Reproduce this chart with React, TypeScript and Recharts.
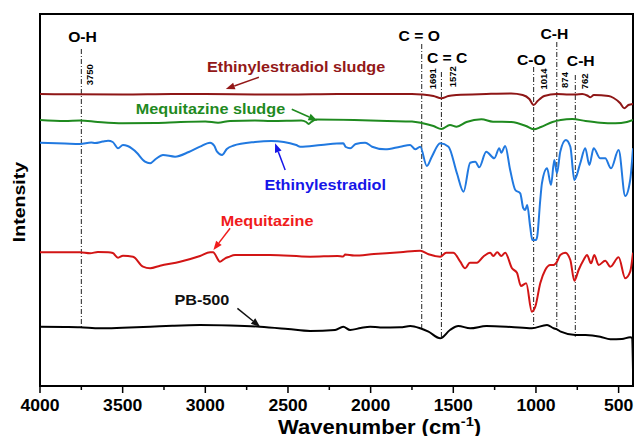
import React from 'react';
import { LineChart, Line, XAxis, YAxis, ReferenceLine, ReferenceDot, ReferenceArea } from 'recharts';

// wavenumber (cm-1) and intensity (a.u.) pairs
const pb500: [number, number][] = [
  [4000, 59.3], [3850, 59], [3758, 58.7], [3637, 57.7], [3500, 58.3], [3334, 59.3], [3200, 60.3], [3032, 61], [2850, 60.5], [2669, 59.3],
  [2500, 57], [2366, 55], [2215, 56], [2166, 59.3], [2124, 56], [2060, 58], [2003, 59.3], [1942, 58.5], [1821, 58.7],
  [1760, 60], [1700, 57.7], [1650, 54.3], [1579, 47.7], [1520, 56], [1470, 60], [1398, 57.7], [1300, 60], [1150, 59],
  [1025, 57.7], [933, 61], [893, 57.7], [873, 56.7], [850, 54.3], [762, 51], [700, 51], [611, 49.3], [550, 46.7],
  [480, 47], [430, 48.7], [418, 48], [413, 16],
];
const mequitazine: [number, number][] = [
  [4000, 133.7], [3758, 133.7], [3697, 132.7], [3650, 134], [3588, 133.7], [3560, 133], [3528, 128.3], [3498, 130.3],
  [3437, 129.3], [3377, 119.3], [3334, 117.7], [3274, 120.3], [3153, 124.3], [3032, 130], [2971, 133.7], [2953, 133.7],
  [2911, 124.3], [2880, 127.7], [2860, 129], [2820, 131], [2608, 131], [2366, 129.3], [2200, 130], [2166, 129.5],
  [2154, 131.5], [2100, 130.5], [1980, 132], [1821, 133.7], [1700, 135.3], [1650, 131.7], [1579, 129.3], [1543, 133.3],
  [1500, 133.3], [1458, 124.3], [1428, 117.7], [1400, 123.3], [1357, 123.3], [1319, 129.3], [1277, 133.3], [1258, 130],
  [1234, 133.7], [1210, 130], [1186, 133.3], [1145, 117.7], [1115, 113.3], [1091, 100], [1059, 102.7], [1025, 74.3],
  [1004, 79.3], [974, 102.7], [944, 116], [913, 121], [893, 121], [873, 124.3], [853, 131], [823, 133.3], [792, 126],
  [768, 105.3], [742, 116], [712, 126], [691, 131], [667, 122.7], [647, 131], [621, 121], [581, 125.3], [550, 119.3],
  [500, 128.7], [460, 107.7], [430, 114.3], [413, 133.3],
];
const ethinylestradiol: [number, number][] = [
  [4000, 243.3], [3850, 242.5], [3758, 242], [3690, 243.5], [3667, 243], [3620, 244.5], [3588, 245.3], [3560, 244],
  [3528, 237.7], [3498, 241], [3470, 240], [3413, 233], [3377, 226], [3365, 224.3], [3334, 222.7], [3300, 227],
  [3256, 231], [3183, 229.3], [3100, 234], [3032, 239.3], [2971, 243.3], [2945, 240], [2929, 234.3], [2899, 231],
  [2870, 237], [2832, 240.3], [2700, 244], [2600, 245], [2450, 241], [2426, 239.3], [2300, 241], [2166, 242.7],
  [2150, 239], [2124, 237.7], [2090, 242], [2033, 243.3], [1991, 239.3], [1912, 236.7], [1821, 239.3], [1761, 241],
  [1730, 236.7], [1700, 239.3], [1660, 220], [1630, 229.3], [1579, 242.7], [1529, 239.3], [1478, 212.7], [1438, 194.3],
  [1398, 223.3], [1367, 224.3], [1343, 218.7], [1301, 234.3], [1252, 227.7], [1222, 237.7], [1210, 233.3], [1186, 240],
  [1156, 216], [1125, 196], [1095, 192.7], [1077, 178], [1065, 176], [1053, 181], [1035, 159.3], [1022, 146],
  [1000, 146], [992, 150], [974, 186], [964, 202.7], [933, 217.7], [909, 201], [889, 226], [873, 212.7], [853, 234.3],
  [819, 246], [792, 239.3], [768, 206], [732, 222.7], [702, 237.7], [677, 221], [651, 237.7], [611, 227.7], [581, 227.7],
  [546, 217.7], [500, 236], [460, 190], [430, 206], [413, 237.7],
];
const mequitazineSludge: [number, number][] = [
  [4000, 266], [3850, 265], [3758, 265.5], [3650, 264], [3500, 262.7], [3300, 263], [3150, 264], [3000, 264.5],
  [2923, 263.3], [2850, 265], [2700, 265.5], [2600, 265], [2420, 265.5], [2390, 264], [2375, 262], [2360, 264],
  [2330, 266.5], [2100, 266], [1900, 265], [1750, 264.5], [1691, 263], [1620, 260], [1572, 257], [1520, 261],
  [1480, 259.3], [1420, 264], [1330, 266.7], [1260, 264.3], [1150, 264], [1060, 260], [1014, 256.7], [970, 259],
  [900, 264], [850, 266], [780, 267], [700, 265], [611, 263.3], [520, 262.7], [450, 264], [413, 266],
];
const ethinylestradiolSludge: [number, number][] = [
  [4000, 292], [3800, 291.7], [3500, 291.5], [3200, 292], [3000, 292], [2700, 291.6], [2500, 291.5], [2200, 292],
  [2000, 292], [1750, 292], [1691, 291.5], [1620, 290], [1572, 287.7], [1530, 290], [1480, 291], [1300, 292],
  [1150, 292.5], [1080, 291], [1040, 287], [1014, 281], [990, 285], [950, 290], [874, 292], [800, 291.5], [762, 291.5],
  [720, 292], [690, 290.5], [671, 288.7], [650, 291], [560, 290], [530, 288], [490, 282.7], [466, 277.7], [441, 281],
  [413, 282],
];

const xTicks = [4000, 3750, 3500, 3250, 3000, 2750, 2500, 2250, 2000, 1750, 1500, 1250, 1000, 750, 500];

// marker lines: wavenumber, top and bottom intensity
const markerLines: { w: number; top: number; bottom: number }[] = [
  { w: 3750, top: 337, bottom: 59 },
  { w: 1691, top: 342, bottom: 57.7 },
  { w: 1572, top: 314, bottom: 47.7 },
  { w: 1014, top: 319, bottom: 57.7 },
  { w: 874, top: 344, bottom: 57.7 },
  { w: 762, top: 311, bottom: 49.3 },
];
const bandLabels: { text: string; w: number; v: number }[] = [
  { text: 'O-H', w: 3743, v: 349.3 },
  { text: 'C = O', w: 1706, v: 350.3 },
  { text: 'C = C', w: 1537, v: 328.3 },
  { text: 'C-O', w: 1028, v: 326.7 },
  { text: 'C-H', w: 889, v: 352 },
  { text: 'C-H', w: 729, v: 325 },
];
const peakLabels: { text: string; w: number; v: number }[] = [
  { text: '3750', w: 3699, v: 311.3 },
  { text: '1691', w: 1628, v: 307.2 },
  { text: '1572', w: 1504, v: 309.3 },
  { text: '1014', w: 956, v: 307 },
  { text: '874', w: 826, v: 306 },
  { text: '762', w: 708, v: 304.7 },
];
const seriesLabels: { text: string; w: number; v: number; color: string; tail: [number, number]; tip: [number, number] }[] = [
  { text: 'Ethinylestradiol sludge', w: 2451, v: 319.3, color: '#931818', tail: [2676, 308.7], tip: [2876, 297] },
  { text: 'Mequitazine sludge', w: 2969, v: 277.7, color: '#1f8a1f', tail: [2477, 276.7], tip: [2322, 265.3] },
  { text: 'Ethinylestradiol', w: 2275, v: 201, color: '#1616e8', tail: [2517, 216], tip: [2578, 242.7] },
  { text: 'Mequitazine', w: 2626, v: 165.3, color: '#f01c1c', tail: [2850, 157.7], tip: [2951, 136] },
  { text: 'PB-500', w: 3021, v: 86, color: '#111111', tail: [2806, 77.7], tip: [2669, 59.3] },
];

const toData = (arr: [number, number][]) => arr.map(([w, v]) => ({ w, v }));
const FONT = 'Liberation Sans, Arial, sans-serif';

const AxisTick = (props: any) => {
  const { x, y, payload } = props;
  const major = payload.value % 500 === 0;
  return (
    <g>
      <line x1={x} x2={x} y1={y} y2={y + (major ? 7 : 4)} stroke="#000" strokeWidth={1.5} />
      {major && (
        <text transform={`translate(${x},${y + 24.5}) scale(1.1,1)`} textAnchor="middle" fontSize={16}
          fontWeight="bold" fontFamily={FONT} fill="#000">{payload.value}</text>
      )}
    </g>
  );
};

const textShape = (text: string, opts: { size: number; color: string; rotate?: boolean; bold?: boolean; sx?: number }) =>
  (p: any) => (
    <text
      transform={opts.rotate ? `translate(${p.cx},${p.cy}) rotate(-90)` : `translate(${p.cx},${p.cy}) scale(${opts.sx ?? 1.08},1)`}
      textAnchor="middle" dominantBaseline="central" fontSize={opts.size} fontFamily={FONT}
      fontWeight={opts.bold === false ? 'normal' : 'bold'} fill={opts.color}>{text}</text>
  );

const arrowShape = (color: string) => (p: any) => {
  const { x1, y1, x2, y2 } = p;
  const dx = x2 - x1, dy = y2 - y1;
  const len = Math.sqrt(dx * dx + dy * dy) || 1;
  const ux = dx / len, uy = dy / len;
  const hl = 9, hw = 3.5;
  const bx = x2 - ux * hl, by = y2 - uy * hl;
  const pts = `${x2},${y2} ${bx - uy * hw},${by + ux * hw} ${bx + uy * hw},${by - ux * hw}`;
  return (
    <g>
      <line x1={x1} y1={y1} x2={bx} y2={by} stroke={color} strokeWidth={1.5} />
      <polygon points={pts} fill={color} />
    </g>
  );
};

const XTitle = (p: any) => (
  <text transform={`translate(${p.cx},${p.cy}) scale(1.13,1)`} textAnchor="middle" fontSize={19.5}
    fontWeight="bold" fontFamily={FONT} fill="#000">
    Wavenumber (cm<tspan dy={-8} fontSize={13}>-1</tspan><tspan dy={8}>)</tspan>
  </text>
);
const YTitle = (p: any) => (
  <text transform={`translate(${p.cx},${p.cy}) rotate(-90) scale(1.15,1)`} textAnchor="middle"
    dominantBaseline="central" fontSize={17} fontWeight="bold" fontFamily={FONT} fill="#000">Intensity</text>
);

export default function App() {
  return (
    <div style={{ position: 'absolute', left: 0, top: 0, width: 635, height: 436, background: '#fff' }}>
      <LineChart width={635} height={436} margin={{ top: 14, right: 2, bottom: 0, left: 40 }}>
        <XAxis type="number" dataKey="w" domain={[413, 4000]} reversed allowDataOverflow ticks={xTicks}
          interval={0} tick={<AxisTick />} tickLine={false} tickSize={0} tickMargin={0} axisLine={false} height={50} />
        <YAxis type="number" domain={[0, 372]} hide allowDataOverflow />
        <ReferenceArea x1={4000} x2={413} y1={0} y2={372} fill="none" fillOpacity={0} stroke="#000" strokeWidth={2} />
        {markerLines.map((m) => (
          <ReferenceLine key={'m' + m.w} segment={[{ x: m.w, y: m.top }, { x: m.w, y: m.bottom }]}
            stroke="#222" strokeWidth={1} strokeDasharray="5 2 1 2" />
        ))}
        <Line data={toData(pb500)} dataKey="v" type="monotone" stroke="#000" strokeWidth={2} dot={false} isAnimationActive={false} />
        <Line data={toData(mequitazine)} dataKey="v" type="monotone" stroke="#d21515" strokeWidth={2} dot={false} isAnimationActive={false} />
        <Line data={toData(ethinylestradiol)} dataKey="v" type="monotone" stroke="#2179e0" strokeWidth={2} dot={false} isAnimationActive={false} />
        <Line data={toData(mequitazineSludge)} dataKey="v" type="monotone" stroke="#1f8a1f" strokeWidth={2} dot={false} isAnimationActive={false} />
        <Line data={toData(ethinylestradiolSludge)} dataKey="v" type="monotone" stroke="#8e1616" strokeWidth={2} dot={false} isAnimationActive={false} />
        {bandLabels.map((b, i) => (
          <ReferenceDot key={'b' + i} x={b.w} y={b.v} r={0} shape={textShape(b.text, { size: 14.5, color: '#000' })} />
        ))}
        {peakLabels.map((b, i) => (
          <ReferenceDot key={'p' + i} x={b.w} y={b.v} r={0} shape={textShape(b.text, { size: 9.5, color: '#000', rotate: true, bold: true })} />
        ))}
        {seriesLabels.map((s, i) => (
          <ReferenceLine key={'a' + i} segment={[{ x: s.tail[0], y: s.tail[1] }, { x: s.tip[0], y: s.tip[1] }]}
            stroke={s.color} shape={arrowShape(s.color)} />
        ))}
        {seriesLabels.map((s, i) => (
          <ReferenceDot key={'s' + i} x={s.w} y={s.v} r={0} shape={textShape(s.text, { size: 15, color: s.color })} />
        ))}
        <ReferenceDot x={1946} y={-47.5} r={0} ifOverflow="visible" shape={XTitle} />
        <ReferenceDot x={4127} y={184} r={0} ifOverflow="visible" shape={YTitle} />
      </LineChart>
    </div>
  );
}
